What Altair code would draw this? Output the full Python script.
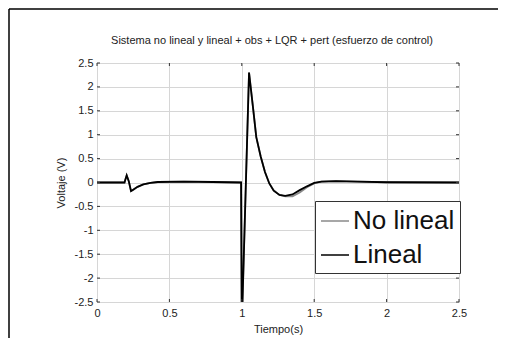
import altair as alt
import pandas as pd

# ---- data ----
t_vals = [0.0, 0.19, 0.195, 0.205, 0.22, 0.235, 0.25, 0.28, 0.32, 0.37, 0.42, 0.6, 0.8, 0.995,
          1.0, 1.05, 1.08, 1.1, 1.13, 1.16, 1.19, 1.22, 1.26, 1.3, 1.35, 1.4, 1.45, 1.5, 1.55,
          1.65, 1.8, 2.0, 2.5]
lineal = [0, 0, 0.05, 0.15, 0.02, -0.18, -0.15, -0.09, -0.04, -0.01, 0.01, 0.02, 0.01, 0,
          -3.0, 2.3, 1.5, 0.95, 0.55, 0.22, -0.02, -0.17, -0.26, -0.28, -0.25, -0.16, -0.08,
          -0.01, 0.02, 0.03, 0.02, 0.005, 0]
no_lineal = [0, 0, 0.05, 0.15, 0.02, -0.18, -0.15, -0.09, -0.04, -0.01, 0.01, 0.02, 0.01, 0,
             -3.0, 2.3, 1.5, 0.95, 0.55, 0.22, -0.02, -0.16, -0.26, -0.29, -0.29, -0.21, -0.1,
             -0.02, 0.02, 0.03, 0.02, 0.005, 0]
series_names = ["No lineal", "Lineal"]
series_colors = ["#8a8a8a", "#000000"]
x_ticks = [0, 0.5, 1, 1.5, 2, 2.5]
y_ticks = [-2.5, -2, -1.5, -1, -0.5, 0, 0.5, 1, 1.5, 2, 2.5]
title_text = "Sistema no lineal y lineal + obs + LQR + pert (esfuerzo de control)"

rows = []
for t, v in zip(t_vals, no_lineal):
    rows.append({"t": t, "v": v, "serie": "No lineal", "o": 0})
for t, v in zip(t_vals, lineal):
    rows.append({"t": t, "v": v, "serie": "Lineal", "o": 1})
df = pd.DataFrame(rows)

W, H = 362, 239
PAD_L, PAD_T, PAD_R, PAD_B = 89, 55, 39, 36
FONT = "Liberation Sans"

xs = alt.Scale(domain=[0, 2.5], nice=False, zero=False)
ys = alt.Scale(domain=[-2.5, 2.5], nice=False, zero=False)

axis_common = dict(labelExpr="toString(datum.value)", tickSize=0, domain=False,
                   grid=True, gridColor="#d6d6d6", labelOverlap=False, labelFlush=False,
                   labelFont=FONT, labelFontSize=11, labelColor="#222",
                   titleFont=FONT, titleFontSize=11, titleFontWeight="normal", titleColor="#222")
x_axis = alt.Axis(values=x_ticks, title="Tiempo(s)", labelPadding=5, titlePadding=5, **axis_common)
y_axis = alt.Axis(values=y_ticks, title="Voltaje (V)", labelPadding=4, titlePadding=8, **axis_common)

lines = alt.Chart(df).mark_line(clip=True, strokeWidth=1.8).encode(
    x=alt.X("t:Q", scale=xs, axis=x_axis),
    y=alt.Y("v:Q", scale=ys, axis=y_axis),
    color=alt.Color("serie:N", sort=series_names,
                    scale=alt.Scale(domain=series_names, range=series_colors),
                    legend=alt.Legend(title=None, orient="none", legendX=218, legendY=138,
                                      symbolType="stroke", symbolSize=784, symbolStrokeWidth=1.5,
                                      labelFontSize=26, labelFont=FONT, labelColor="#111",
                                      labelOffset=3, rowPadding=6, padding=5,
                                      strokeColor="#333", fillColor="white")),
    order=alt.Order("o:Q"),
    detail="serie:N",
)

xt = pd.DataFrame({"t": x_ticks})
yt = pd.DataFrame({"v": y_ticks})
tick_bottom = alt.Chart(xt).mark_rule(color="#333").encode(
    x=alt.X("t:Q", scale=xs, axis=x_axis), y=alt.value(H), y2=alt.value(H - 3))
tick_top = alt.Chart(xt).mark_rule(color="#333").encode(
    x=alt.X("t:Q", scale=xs, axis=x_axis), y=alt.value(0), y2=alt.value(3))
tick_left = alt.Chart(yt).mark_rule(color="#333").encode(
    y=alt.Y("v:Q", scale=ys, axis=y_axis), x=alt.value(0), x2=alt.value(3))
tick_right = alt.Chart(yt).mark_rule(color="#333").encode(
    y=alt.Y("v:Q", scale=ys, axis=y_axis), x=alt.value(W), x2=alt.value(W - 3))

one = pd.DataFrame({"a": [0]})
frame_top = alt.Chart(one).mark_rule(color="#000", strokeWidth=1.5, clip=False).encode(
    x=alt.value(-PAD_L + 1), x2=alt.value(W + PAD_R), y=alt.value(-PAD_T + 1))
frame_left = alt.Chart(one).mark_rule(color="#000", strokeWidth=1.5, clip=False).encode(
    x=alt.value(-PAD_L + 1), y=alt.value(-PAD_T + 1), y2=alt.value(H + PAD_B))

title = alt.Chart(pd.DataFrame({"txt": [title_text]})).mark_text(
    font=FONT, fontSize=11, color="#222", align="center", baseline="alphabetic").encode(
    text="txt:N", x=alt.value(W / 2 - 6), y=alt.value(-19))

chart = alt.layer(frame_top, frame_left, lines, tick_bottom, tick_top, tick_left, tick_right,
                  title).properties(
    width=W, height=H,
    autosize=alt.AutoSizeParams(type="none"),
    padding={"left": PAD_L, "top": PAD_T, "right": PAD_R, "bottom": PAD_B},
).configure_view(stroke="#444", strokeWidth=1.2).configure(background="white")

chart.save("out.html", embed_options={"renderer": "svg", "actions": False})
